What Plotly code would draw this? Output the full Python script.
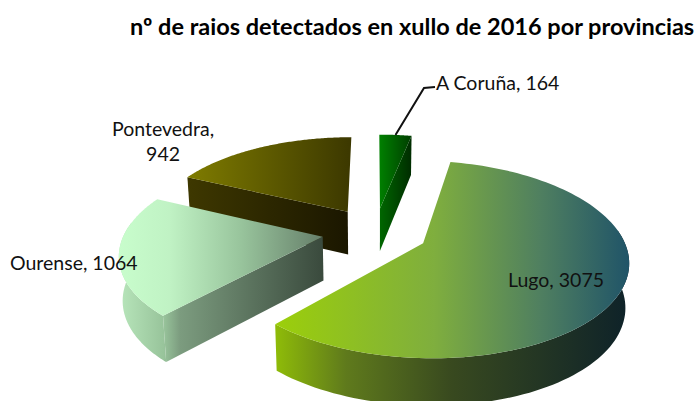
import numpy as np
import plotly.graph_objects as go

TITLE = "nº de raios detectados en xullo de 2016 por provincias"
provinces = ["A Coruña", "Lugo", "Ourense", "Pontevedra"]
values = [164, 3075, 1064, 942]

# Drawing style
top_colors = {
    "A Coruña": [(0, "#008000"), (1, "#003e00")],
    "Lugo": [(0, "#9ccf0a"), (0.45, "#7fae3e"), (0.75, "#4f7f60"), (1, "#205468")],
    "Ourense": [(0, "#c8fdcc"), (0.25, "#c0f2c4"), (0.6, "#98c49c"), (1, "#667f6a")],
    "Pontevedra": [(0, "#7f7c00"), (1, "#3c3800")],
}
wall_colors = {
    "A Coruña": [(0, "#006800"), (1, "#002c00")],
    "Lugo": [(0, "#8fbc08"), (0.2, "#5f7a1c"), (0.5, "#38491f"), (1, "#0e2229")],
    "Ourense": [(0, "#b8e6bb"), (0.22, "#98c49b"), (0.3, "#7c9c7f"), (1, "#3a4a3d")],
    "Pontevedra": [(0, "#3e3800"), (1, "#1a1600")],
}
draw_order = ["Pontevedra", "A Coruña", "Ourense", "Lugo"]

# Camera of the pie
X0, Y0, F, G, P = 375.0, 232.0, 198.0, 92.5, 0.16
EXPLODE = 0.267
SHRINK = 0.985


def project(u, v, low=False):
    u, v = np.asarray(u, float), np.asarray(v, float)
    w = 1 + P * v
    sx = X0 + F * u / w
    sy = Y0 - G * v / w
    if low:
        sx = X0 + (sx - X0) * SHRINK
        sy = sy + 43.5 - 3.5 * v
    return sx, sy


def poly(sx, sy, colors, x_range):
    return go.Scatter(
        x=list(sx) + [sx[0]], y=list(sy) + [sy[0]],
        mode="none", fill="toself", hoverinfo="skip", showlegend=False,
        fillgradient=dict(type="horizontal", colorscale=colors,
                          start=x_range[0], stop=x_range[1]),
    )


fig = go.Figure()
total = sum(values)
angles = np.cumsum([0] + values) / total * 2 * np.pi
spans = {p: (angles[i], angles[i + 1]) for i, p in enumerate(provinces)}

for name in draw_order:
    a0, a1 = spans[name]
    mid = (a0 + a1) / 2
    ex, ey = EXPLODE * np.sin(mid), EXPLODE * np.cos(mid)
    th = np.linspace(a0, a1, 120)
    au, av = ex + np.sin(th), ey + np.cos(th)

    face_x, face_y = project(np.r_[ex, au], np.r_[ey, av])
    xr = (face_x.min(), face_x.max())

    # outer wall: only the part of the rim that faces the viewer
    front = th[(th > np.pi * 0.45) & (th < np.pi * 1.55)]
    if len(front) > 1:
        fu, fv = ex + np.sin(front), ey + np.cos(front)
        tx, ty = project(fu, fv)
        bx, by = project(fu, fv, low=True)
        fig.add_trace(poly(np.r_[tx, bx[::-1]], np.r_[ty, by[::-1]], wall_colors[name], xr))

    # radial walls that face the viewer
    for a, visible in ((a0, np.sin(a0) < -1e-6), (a1, -np.sin(a1) < -1e-6)):
        if visible:
            ru, rv = np.array([ex, ex + np.sin(a)]), np.array([ey, ey + np.cos(a)])
            tx, ty = project(ru, rv)
            bx, by = project(ru, rv, low=True)
            fig.add_trace(poly(np.r_[tx, bx[::-1]], np.r_[ty, by[::-1]], wall_colors[name], xr))

    fig.add_trace(poly(face_x, face_y, top_colors[name], xr))

# leader line of the first slice
a0, a1 = spans["A Coruña"]
m = (a0 + a1) / 2
lx, ly = project([EXPLODE * np.sin(m) + np.sin(m)], [EXPLODE * np.cos(m) + np.cos(m)])
fig.add_trace(go.Scatter(x=[lx[0], 424, 435], y=[ly[0], 88, 87], mode="lines",
                         line=dict(color="#111111", width=2), hoverinfo="skip", showlegend=False))

FONT = "Lato, sans-serif"
labels = [
    (f"{provinces[0]}, {values[0]}", 434, 82, "left"),
    (f"{provinces[1]}, {values[1]}", 555.5, 279, "center"),
    (f"{provinces[2]}, {values[2]}", 74, 262, "center"),
    (f"{provinces[3]},<br>{values[3]}", 162.5, 141, "center"),
]
ann = [dict(x=x, y=y, text=t, showarrow=False, xanchor=a, yanchor="middle", align="center",
            font=dict(family=FONT, size=19.5, color="#111111")) for t, x, y, a in labels]
ann.append(dict(x=411.5, y=26, text=f"<b>{TITLE}</b>", showarrow=False, xanchor="center", yanchor="middle",
                font=dict(family=FONT, size=23.5, color="#000000")))

fig.update_layout(
    width=700, height=401, margin=dict(l=0, r=0, t=0, b=0),
    paper_bgcolor="white", plot_bgcolor="white", showlegend=False,
    xaxis=dict(range=[0, 700], visible=False, fixedrange=True),
    yaxis=dict(range=[401, 0], visible=False, fixedrange=True),
    annotations=ann,
)
fig.write_html("out.html", config={"displayModeBar": False},
               post_script="document.body.style.margin='0';document.documentElement.style.overflow='hidden';")
